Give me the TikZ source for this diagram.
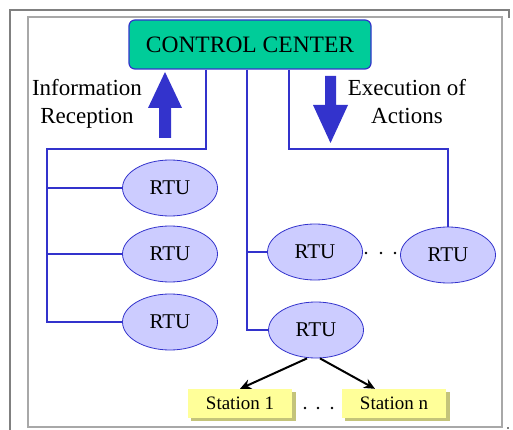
\documentclass[tikz,border=0pt]{standalone}
\usepackage{fontspec}
\setmainfont{Liberation Serif}
\usetikzlibrary{shapes.geometric,arrows.meta}
\definecolor{teal1}{HTML}{00CC99}
\definecolor{blu}{HTML}{3333CC}
\definecolor{lilac}{HTML}{CCCCFF}
\definecolor{yel}{HTML}{FFFF99}
\definecolor{yshadow}{HTML}{C4C47A}
\definecolor{frameA}{HTML}{808080}
\definecolor{frameB}{HTML}{A8A8A8}
\begin{document}
\begin{tikzpicture}[x=1pt,y=-1pt,
  ccbox/.style={draw=blu,line width=1.2pt,fill=teal1,rounded corners=6pt,minimum width=242pt,minimum height=49pt,inner sep=0pt,font=\fontsize{23.5}{23.5}\selectfont},
  rtu/.style={ellipse,draw=blu,line width=0.8pt,fill=lilac,minimum width=95pt,minimum height=56pt,inner sep=0pt,font=\fontsize{21}{21}\selectfont},
  stationbox/.style={fill=yel,minimum width=104pt,minimum height=29pt,inner sep=0pt,font=\fontsize{19}{19}\selectfont},
  link/.style={blu,line width=2pt},
  sublink/.style={blu,line width=1.4pt},
  bigarrow/.style={fill=blu,draw=none},
  lbl/.style={align=center,font=\fontsize{23}{28}\selectfont,inner sep=0pt},
  dot/.style={circle,fill=black,inner sep=0pt,minimum size=2.6pt},
  darrow/.style={black,line width=2pt,-{Stealth[length=11pt,width=10pt]}}
]
\useasboundingbox (0,0) rectangle (513,430);
% frames
\draw[frameA,line width=2.5pt] (10,431) -- (10,10) -- (509,10) -- (509,18);
\draw[frameB,line width=2pt] (28,17.5) rectangle (502,427);
\fill[frameA] (507,427) rectangle (509,429);
% control center
\node[ccbox] (cc) at (250,44.5) {CONTROL CENTER};
% RTUs
\node[rtu] (l1) at (170,188) {RTU};
\node[rtu] (l2) at (170,254) {RTU};
\node[rtu] (l3) at (170,322) {RTU};
\node[rtu] (m1) at (315,252) {RTU};
\node[rtu] (r1) at (448,255) {RTU};
\node[rtu] (m2) at (316,330) {RTU};
% stations
\fill[yshadow] (191,392) rectangle (296,421);
\fill[yshadow] (345,392) rectangle (450,421);
\node[stationbox] (s1) at (240,403.5) {Station 1};
\node[stationbox] (sn) at (394,403.5) {Station n};
% coordinates for trunks
\coordinate (lt) at (206,149);
\coordinate (lc) at (47,149);
\coordinate (mb) at (247,330);
\coordinate (rt) at (289,149);
\coordinate (rc) at (448,149);
% left trunk
\draw[link] (cc.south -| lt) -- (lt) -- (lc) -- (lc |- l3.west) -- (l3.west);
\draw[sublink] (l1.west -| lc) -- (l1.west);
\draw[sublink] (l2.west -| lc) -- (l2.west);
% middle trunk
\draw[link] (cc.south -| mb) -- (mb) -- (m2.west);
\draw[sublink] (m1.west -| mb) -- (m1.west);
% right trunk
\draw[link] (cc.south -| rt) -- (rt) -- (rc) -- (r1.north);
% black arrows
\coordinate (a1) at ([xshift=-9pt]m2.south);
\draw[darrow] (a1) -- (s1.north);
\coordinate (a2) at ([xshift=4pt]m2.south);
\coordinate (a3) at ([xshift=-19pt]sn.north);
\draw[darrow] (a2) -- (a3);
% dots
\node[dot] (d1) at (366,253) {};
\node[dot] (d2) at (381,253) {};
\node[dot] (d3) at (395,253) {};
\node[dot] (d4) at (305,408) {};
\node[dot] (d5) at (318,408) {};
\node[dot] (d6) at (332,408) {};
% big arrows
\fill[bigarrow] (159,138) -- (171,138) -- (171,108) -- (182,108) -- (165,72) -- (148,108) -- (159,108) -- cycle;
\fill[bigarrow] (325,76) -- (336,76) -- (336,105) -- (348,105) -- (330.5,143) -- (313,105) -- (325,105) -- cycle;
% labels
\node[lbl] (info) at (87,104) {Information\\Reception};
\node[lbl] (exec) at (407,102) {Execution of\\Actions};
\end{tikzpicture}
\end{document}
